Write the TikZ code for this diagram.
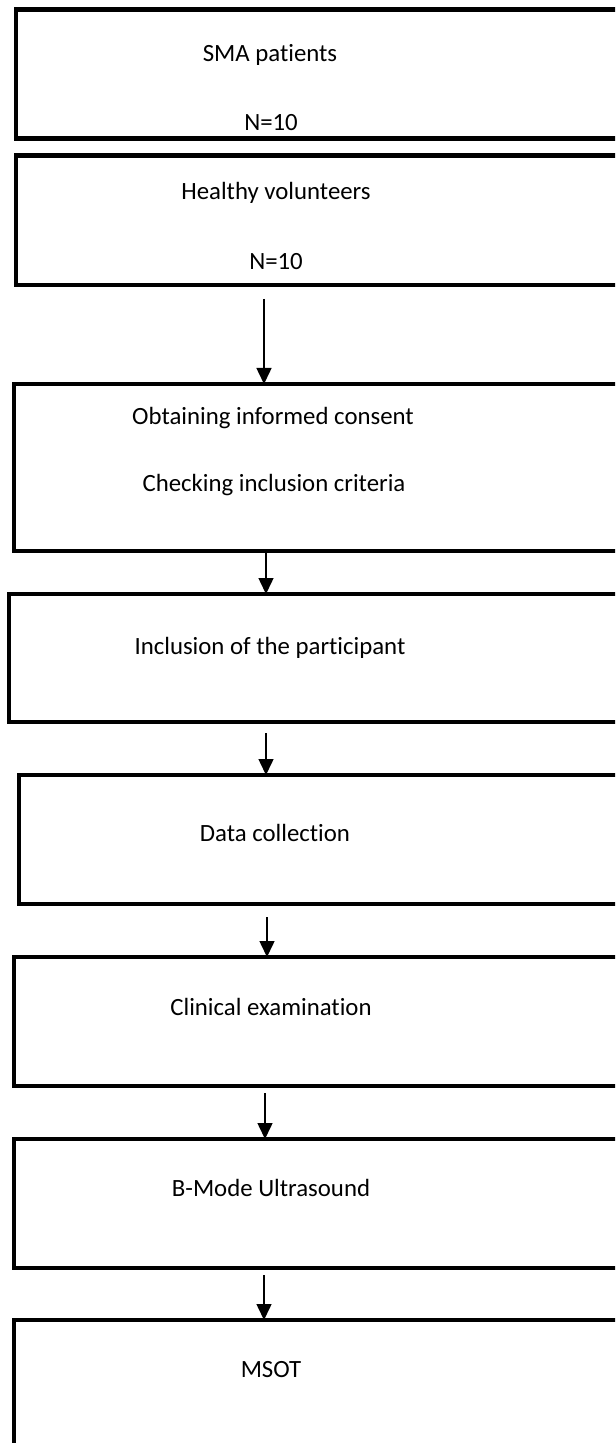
\documentclass[tikz,border=0pt]{standalone}
\usepackage{fontspec}
\setmainfont{Carlito}[Ligatures=CommonOff]
\usetikzlibrary{arrows.meta}

\tikzset{
	box/.style={
		rectangle,
		draw=black, line width=2.25pt,
		anchor=north west,
		outer sep=0pt,
		minimum width=342pt,
	},
	lbl/.style={
		inner sep=0pt,
		font=\fontsize{12.4}{15}\selectfont,
	},
	arr/.style={-{Triangle[length=8pt,width=7.5pt]}, line width=0.75pt},
}

\begin{document}
\begin{tikzpicture}[x=0.5pt, y=-0.5pt]
	\clip (0,0) rectangle (615,1443);
	
	\node[box, minimum height=64.5pt](BOX1) at (16,9.5){};
	\node[lbl](T1a) at (270,55){SMA patients};
	\node[lbl](T1b) at (271,123){N=10};
	
	\node[box, minimum height=64.75pt](BOX2) at (16,155.5){};
	\node[lbl](T2a) at (276,193){Healthy volunteers};
	\node[lbl](T2b) at (276,262){N=10};
	
	\node[box, minimum height=83.5pt](BOX3) at (14,384){};
	\node[lbl](T3a) at (273,418){Obtaining informed consent};
	\node[lbl](T3b) at (274,485){Checking inclusion criteria};
	
	\node[box, minimum height=64pt](BOX4) at (9,594){};
	\node[lbl](T4) at (270,648){Inclusion of the participant};
	
	\node[box, minimum height=64.5pt](BOX5) at (19,775){};
	\node[lbl](T5) at (275,833){Data collection};
	
	\node[box, minimum height=64.5pt](BOX6) at (14,957){};
	\node[lbl](T6) at (271,1007){Clinical examination};
	
	\node[box, minimum height=64.5pt](BOX7) at (14,1139){};
	\node[lbl](T7) at (271,1188){B-Mode Ultrasound};
	
	\node[box, minimum height=150pt](BOX8) at (14,1320){};
	\node[lbl](T8) at (271,1370){MSOT};
	
	\coordinate(A1) at (264,0);
	\coordinate(A2) at (266,0);
	\coordinate(A3) at (266,0);
	\coordinate(A4) at (267,0);
	\coordinate(A5) at (265,0);
	\coordinate(A6) at (264,0);
	
	\draw[arr, shorten <=7pt] (BOX2.south -| A1) -- (BOX3.north -| A1);
	\draw[arr, shorten <=1pt] (BOX3.south -| A2) -- (BOX4.north -| A2);
	\draw[arr, shorten <=5.5pt] (BOX4.south -| A3) -- (BOX5.north -| A3);
	\draw[arr, shorten <=6.5pt] (BOX5.south -| A4) -- (BOX6.north -| A4);
	\draw[arr, shorten <=3.5pt] (BOX6.south -| A5) -- (BOX7.north -| A5);
	\draw[arr, shorten <=3.5pt] (BOX7.south -| A6) -- (BOX8.north -| A6);
\end{tikzpicture}
\end{document}
